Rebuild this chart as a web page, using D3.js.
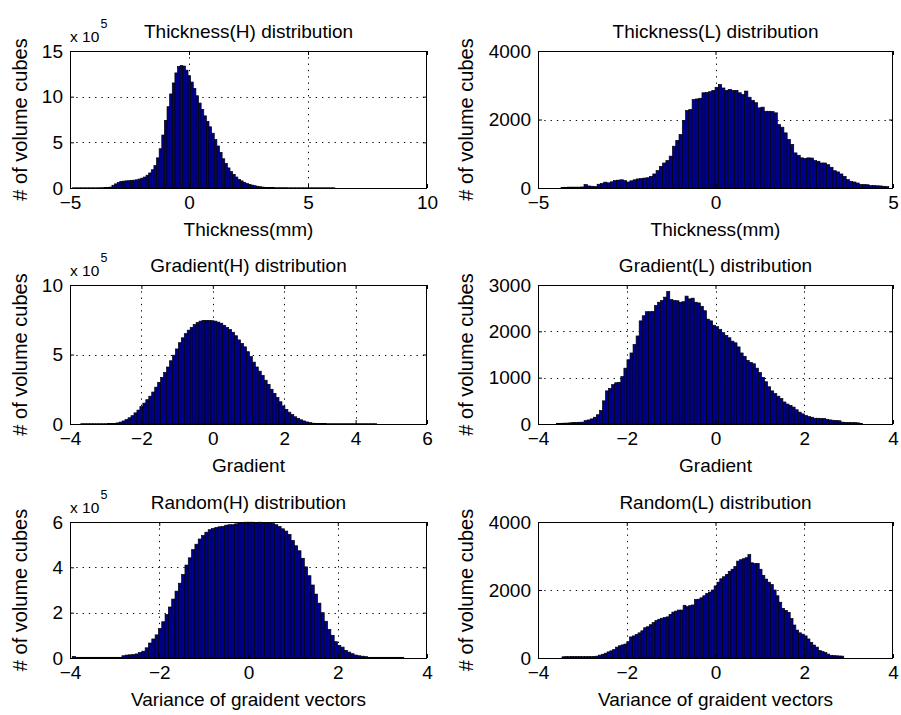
<!DOCTYPE html>
<html>
<head>
<meta charset="utf-8">
<script src="https://cdn.jsdelivr.net/npm/d3@7"></script>
<style>
  body { margin: 0; background: #fff; }
  svg { display: block; background: #fff; }
  text { font-family: "Liberation Sans", Arial, Helvetica, sans-serif; fill: #000; }
</style>
</head>
<body>
<svg id="chart" width="901" height="715"></svg>
<script>
// ---------------- DATA (histogram counts, 100 bins each) ----------------
// Thickness(H): counts in units of 10^5
const thicknessH = [
  0.02,0.02,0.02,0.02,0.02,0.02,0.02,0.02,0.02,0.02,
  0.03,0.03,0.04,0.06,0.10,0.30,0.45,0.60,0.72,0.75,
  0.78,0.80,0.84,0.86,0.90,0.98,1.08,1.20,1.40,1.65,
  2.00,2.45,3.30,4.30,5.80,7.40,8.90,10.3,11.5,12.6,
  13.3,13.4,13.35,12.9,12.3,11.6,10.9,10.1,9.3,8.6,
  7.9,7.3,6.7,6.0,5.3,4.6,3.9,3.2,2.7,2.2,
  1.8,1.5,1.2,0.95,0.78,0.62,0.50,0.40,0.32,0.25,
  0.19,0.14,0.10,0.07,0.05,0.04,0.04,0.03,0.03,0.03,
  0.03,0.03,0.02,0.02,0.02,0.02,0.02,0.02,0.02,0.02,
  0.02,0.02,0.02,0.02,0.02,0.02,0.02,0.02,0.02,0.02
];
const thicknessHRange = [-4.89, 6.13];

// Thickness(L): counts
const thicknessL = [
  20,20,25,25,25,25,30,100,60,50,
  40,110,130,170,150,180,215,230,240,215,
  175,210,240,265,275,290,300,340,410,510,
  630,730,800,930,1220,1390,1560,1970,2260,2290,
  2580,2600,2620,2780,2790,2810,2850,2940,3020,2920,
  2850,2880,2850,2850,2780,2730,2830,2650,2560,2490,
  2340,2360,2240,2240,2230,2195,1850,1775,1610,1415,
  1270,1025,955,880,860,880,875,800,780,730,
  730,680,605,505,470,410,340,245,195,175,
  145,100,100,95,70,70,65,60,50,40
];
const thicknessLRange = [-4.35, 4.88];

// Gradient(H): counts in units of 10^5
const gradientH = [
  0.02,0.02,0.02,0.02,0.02,0.02,0.02,0.02,0.02,0.03,
  0.03,0.04,0.08,0.14,0.22,0.32,0.45,0.60,0.80,1.00,
  1.25,1.50,1.75,2.00,2.30,2.65,3.00,3.35,3.70,4.10,
  4.55,4.95,5.40,5.85,6.20,6.50,6.75,6.95,7.15,7.30,
  7.40,7.45,7.45,7.45,7.43,7.40,7.33,7.25,7.10,6.95,
  6.80,6.60,6.35,6.05,5.80,5.55,5.20,4.85,4.45,4.10,
  3.80,3.50,3.15,2.85,2.50,2.20,1.90,1.60,1.30,1.05,
  0.85,0.68,0.52,0.40,0.30,0.22,0.15,0.10,0.06,0.04,
  0.03,0.03,0.03,0.02,0.02,0.02,0.02,0.02,0.02,0.02,
  0.02,0.02,0.02,0.02,0.02,0.02,0.02,0.02,0.02,0.02
];
const gradientHRange = [-3.70, 4.59];

// Gradient(L): counts
const gradientL = [
  15,15,18,20,25,35,35,38,40,73,
  88,110,146,200,290,500,715,767,850,890,
  900,1022,1205,1387,1533,1715,1900,2226,2336,2424,
  2424,2430,2555,2628,2665,2738,2862,2686,2665,2660,
  2628,2640,2760,2700,2716,2628,2613,2540,2445,2263,
  2226,2131,2100,2044,1971,1912,1861,1788,1752,1664,
  1533,1460,1372,1328,1300,1205,1110,1007,912,803,
  715,657,600,548,475,430,400,365,307,255,
  219,183,160,146,124,124,120,118,102,88,
  80,73,70,40,35,35,30,30,25,15
];
const gradientLRange = [-3.58, 3.31];

// Random(H): counts in units of 10^5
const randomH = [
  0.07,0.03,0.03,0.03,0.03,0.03,0.03,0.03,0.03,0.03,
  0.03,0.03,0.03,0.03,0.03,0.10,0.13,0.14,0.15,0.18,
  0.24,0.30,0.45,0.66,0.84,1.02,1.30,1.60,1.92,2.25,
  2.60,2.95,3.30,3.68,4.10,4.42,4.78,5.02,5.25,5.40,
  5.55,5.66,5.71,5.76,5.79,5.81,5.86,5.88,5.88,5.92,
  5.96,5.98,5.99,5.99,5.99,5.98,5.99,5.98,5.98,5.97,
  5.94,5.88,5.80,5.70,5.60,5.45,5.18,4.95,4.73,4.40,
  4.02,3.63,3.22,2.82,2.42,2.00,1.62,1.26,1.00,0.72,
  0.56,0.48,0.34,0.26,0.19,0.13,0.10,0.08,0.06,0.03,
  0.03,0.03,0.03,0.03,0.03,0.03,0.03,0.03,0.03,0.03
];
const randomHRange = [-3.95, 3.48];

// Random(L): counts
const randomL = [
  35,40,40,45,40,40,40,40,40,40,
  40,45,55,85,110,140,180,210,250,320,
  360,385,410,480,620,650,690,740,800,890,
  920,980,1040,1100,1140,1170,1190,1210,1280,1350,
  1380,1410,1410,1550,1510,1540,1560,1720,1730,1770,
  1830,1900,1940,2000,2120,2230,2330,2390,2460,2550,
  2610,2690,2850,2890,2920,2950,3040,2800,2780,2780,
  2610,2430,2320,2230,2160,2000,1830,1640,1460,1400,
  1340,1160,970,820,740,700,650,560,460,380,
  320,220,190,160,115,80,70,65,60,55
];
const randomLRange = [-3.46, 2.89];

// Titles / labels / ticks
const titles  = ["Thickness(H) distribution","Thickness(L) distribution",
                 "Gradient(H) distribution","Gradient(L) distribution",
                 "Random(H) distribution","Random(L) distribution"];
const xLabels = ["Thickness(mm)","Thickness(mm)","Gradient","Gradient",
                 "Variance of graident vectors","Variance of graident vectors"];
const yLabel  = "# of volume cubes";
const xTicks1 = [-5, 0, 5, 10];
const xTicks2 = [-5, 0, 5];
const xTicks3 = [-4, -2, 0, 2, 4, 6];
const xTicks4 = [-4, -2, 0, 2, 4];
const xTicks5 = [-4, -2, 0, 2, 4];
const xTicks6 = [-4, -2, 0, 2, 4];
const yTicks1 = [0, 5, 10, 15];
const yTicks2 = [0, 2000, 4000];
const yTicks3 = [0, 5, 10];
const yTicks4 = [0, 1000, 2000, 3000];
const yTicks5 = [0, 2, 4, 6];
const yTicks6 = [0, 2000, 4000];
const exponents = [5, null, 5, null, 5, null];

// ---------------- LAYOUT ----------------
const cols = [[70, 427], [538, 893]];
const rows = [[51, 188], [285, 424], [522, 658]];
const barFill = "#00008F";
const FS = 19;

const panels = [
  {counts: thicknessH, range: thicknessHRange, xt: xTicks1, yt: yTicks1},
  {counts: thicknessL, range: thicknessLRange, xt: xTicks2, yt: yTicks2},
  {counts: gradientH,  range: gradientHRange,  xt: xTicks3, yt: yTicks3},
  {counts: gradientL,  range: gradientLRange,  xt: xTicks4, yt: yTicks4},
  {counts: randomH,    range: randomHRange,    xt: xTicks5, yt: yTicks5},
  {counts: randomL,    range: randomLRange,    xt: xTicks6, yt: yTicks6}
].map((p, i) => Object.assign(p, {title: titles[i], xlabel: xLabels[i], exp: exponents[i],
                                   col: i % 2, row: Math.floor(i / 2)}));

const svg = d3.select("#chart");

panels.forEach(p => {
  const [x0, x1] = cols[p.col];
  const [y0, y1] = rows[p.row];
  const w = x1 - x0, h = y1 - y0;
  const g = svg.append("g").attr("transform", `translate(${x0},${y0})`);

  const x = d3.scaleLinear().domain(d3.extent(p.xt)).range([0, w]);
  const y = d3.scaleLinear().domain(d3.extent(p.yt)).range([h, 0]);

  // grid (dotted)
  const gridX = p.xt.slice(1, -1), gridY = p.yt.slice(1, -1);
  g.append("g").selectAll("line").data(gridX).join("line")
    .attr("x1", d => Math.round(x(d)) + 0.5).attr("x2", d => Math.round(x(d)) + 0.5)
    .attr("y1", 0).attr("y2", h)
    .attr("stroke", "#000").attr("stroke-width", 1).attr("stroke-dasharray", "1.3,5");
  g.append("g").selectAll("line").data(gridY).join("line")
    .attr("y1", d => Math.round(y(d)) + 0.5).attr("y2", d => Math.round(y(d)) + 0.5)
    .attr("x1", 0).attr("x2", w)
    .attr("stroke", "#000").attr("stroke-width", 1).attr("stroke-dasharray", "1.3,5");

  // bars
  const n = p.counts.length;
  const bw = (p.range[1] - p.range[0]) / n;
  g.append("g").selectAll("rect").data(p.counts).join("rect")
    .attr("x", (d, i) => x(p.range[0] + i * bw))
    .attr("width", (d, i) => x(p.range[0] + (i + 1) * bw) - x(p.range[0] + i * bw))
    .attr("y", d => y(d))
    .attr("height", d => h - y(d))
    .attr("fill", barFill)
    .attr("stroke", "#000")
    .attr("stroke-width", 0.7);

  // axes (inward ticks), labels on bottom/left
  const fmt = d3.format("d");
  const ax = g.append("g").attr("transform", `translate(0,${h})`)
    .call(d3.axisBottom(x).tickValues(p.xt).tickFormat(fmt).tickSizeInner(-4).tickSizeOuter(0).tickPadding(8));
  const ay = g.append("g")
    .call(d3.axisLeft(y).tickValues(p.yt).tickFormat(fmt).tickSizeInner(-4).tickSizeOuter(0).tickPadding(7));
  const at = g.append("g")
    .call(d3.axisTop(x).tickValues(p.xt).tickFormat("").tickSizeInner(-4).tickSizeOuter(0));
  const ar = g.append("g").attr("transform", `translate(${w},0)`)
    .call(d3.axisRight(y).tickValues(p.yt).tickFormat("").tickSizeInner(-4).tickSizeOuter(0));
  [ax, ay, at, ar].forEach(a => {
    a.select(".domain").remove();
    a.selectAll("line").attr("stroke", "#000");
    a.selectAll("text").attr("font-size", FS).attr("fill", "#000")
      .attr("font-family", "'Liberation Sans', Arial, sans-serif");
  });

  // box
  g.append("rect").attr("x", 0.5).attr("y", 0.5).attr("width", w - 1).attr("height", h)
    .attr("fill", "none").attr("stroke", "#000").attr("stroke-width", 1);

  // title
  g.append("text").attr("x", w / 2).attr("y", -13).attr("text-anchor", "middle")
    .attr("font-size", FS).text(p.title);

  // x label
  g.append("text").attr("x", w / 2).attr("y", h + 48).attr("text-anchor", "middle")
    .attr("font-size", FS).text(p.xlabel);

  // y label
  const ylx = p.col === 0 ? -50 : -72;
  g.append("text").attr("transform", `translate(${ylx},${h / 2}) rotate(-90)`)
    .attr("text-anchor", "middle").attr("dy", "0.35em")
    .attr("font-size", 20).text(yLabel);

  // exponent
  if (p.exp !== null) {
    g.append("text").attr("x", 0).attr("y", -9.5).attr("font-size", 15.5).text("x 10");
    g.append("text").attr("x", 30.5).attr("y", -23.5).attr("font-size", 12.5).text(p.exp);
  }
});
</script>
</body>
</html>
